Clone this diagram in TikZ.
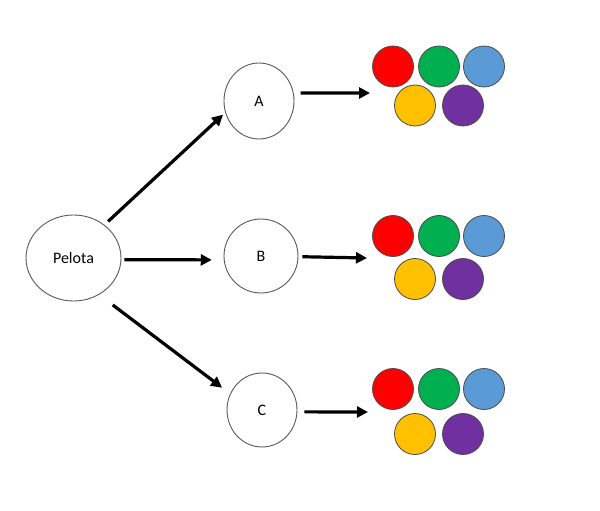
\documentclass[tikz,border=0pt]{standalone}
\usepackage{fontspec}
\setmainfont{Carlito}
\usetikzlibrary{shapes.geometric,arrows.meta}
\definecolor{cRed}{HTML}{FF0000}
\definecolor{cGreen}{HTML}{00B050}
\definecolor{cBlue}{HTML}{5B9BD5}
\definecolor{cYellow}{HTML}{FFC000}
\definecolor{cPurple}{HTML}{7030A0}
\tikzset{
  bubble/.style={ellipse, draw=black!65, line width=0.9pt, fill=white, inner sep=0pt,
    font=\fontsize{16}{19}\selectfont},
  dot/.style={circle, draw=black!70, line width=0.8pt, minimum size=41pt, inner sep=0pt},
  arr/.style={line width=3.2pt, -{Triangle[length=11pt,width=11pt]}},
}
\begin{document}
\begin{tikzpicture}[x=1pt,y=-1pt]
\useasboundingbox (0,0) rectangle (600,511);
\node[bubble, minimum width=95pt, minimum height=86pt] (P) at (73.5,258) {Pelota};
\node[bubble, minimum width=70pt, minimum height=76pt] (A) at (259,101) {A};
\node[bubble, minimum width=74pt, minimum height=74pt] (B) at (261,256) {B};
\node[bubble, minimum width=70pt, minimum height=74pt] (C) at (262,410) {C};

% dot groups
\foreach \g/\yt/\yb in {a/66.5/105.5, b/236/279, c/389/434}{
  \node[dot, fill=cRed]    (\g1) at (393,\yt) {};
  \node[dot, fill=cGreen]  (\g2) at (439,\yt) {};
  \node[dot, fill=cBlue]   (\g3) at (484,\yt) {};
  \node[dot, fill=cYellow] (\g4) at (415,\yb) {};
  \node[dot, fill=cPurple] (\g5) at (463,\yb) {};
}
\coordinate (ta) at (370,93);
\coordinate (tb) at (367,258);
\coordinate (tc) at (368,412);

\draw[arr, shorten <=5pt, shorten >=3pt] (P.47.9) -- (A.199);
\draw[arr, shorten <=3pt, shorten >=12pt] (P.-2.7) -- (B.186.2);
\draw[arr, shorten <=17pt, shorten >=10pt] (P.-55.9) -- (C.153.5);

\draw[arr, shorten <=7pt] (A.13) -- (ta);
\draw[arr, shorten <=4pt] (B.-1.5) -- (tb);
\draw[arr, shorten <=7pt] (C.-3) -- (tc);
\end{tikzpicture}
\end{document}
